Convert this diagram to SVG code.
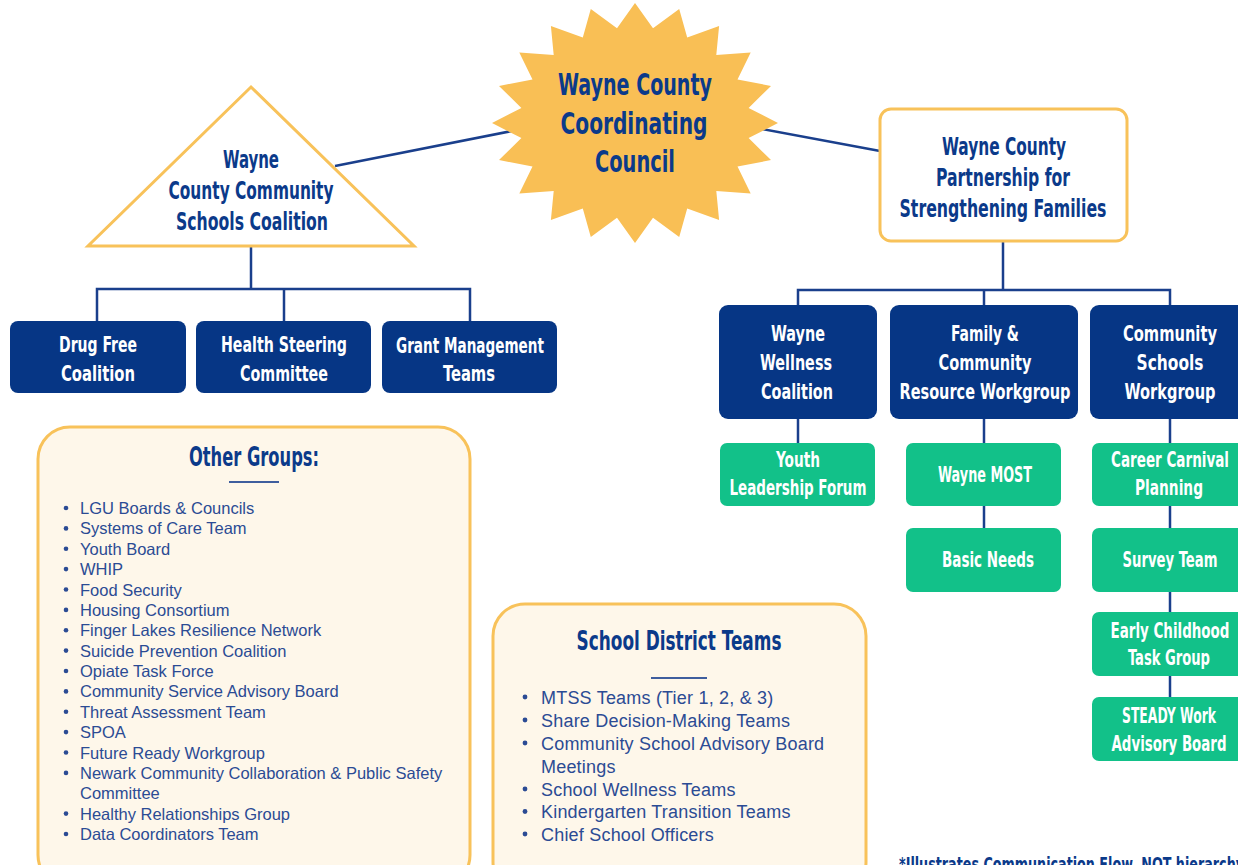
<svg xmlns="http://www.w3.org/2000/svg" width="1238" height="865" viewBox="0 0 1238 865">
<style>
.c{font-family:"DejaVu Sans Condensed","DejaVu Sans",sans-serif;font-stretch:condensed;font-weight:bold;text-anchor:middle}
.nv{fill:#0B3A8A}
.wt{fill:#FFFFFF}
.b1{font-size:30px}
.b2{font-size:25px}
.b3{font-size:22px}
.navy{fill:#063685}
.green{fill:#12C189}
.gold{fill:#FFFFFF;stroke:#F8C25A;stroke-width:3}
.cream{fill:#FEF7EA;stroke:#F8C25A;stroke-width:3}
.ln{stroke:#1A3F8C;stroke-width:2.5;fill:none}
.li{font-family:"Liberation Sans",Arial,sans-serif;font-size:16.5px;fill:#2B4B94}
.li2{font-family:"Liberation Sans",Arial,sans-serif;font-size:18px;letter-spacing:0.2px;fill:#2B4B94}
.dot{fill:#2B4B94}
</style>
<rect width="1238" height="865" fill="#FFFFFF"/>
<g id="connectors">
<line class="ln" x1="335" y1="166" x2="517" y2="130"/>
<line class="ln" x1="757" y1="128" x2="880" y2="151"/>
<polyline class="ln" points="251,246 251,289"/>
<polyline class="ln" points="97,322 97,289 470,289 470,322"/>
<line class="ln" x1="284" y1="289" x2="284" y2="322"/>
<line class="ln" x1="1003" y1="241" x2="1003" y2="290"/>
<polyline class="ln" points="798,306 798,290 1170,290 1170,306"/>
<line class="ln" x1="984" y1="290" x2="984" y2="306"/>
<line class="ln" x1="798" y1="419" x2="798" y2="443"/>
<line class="ln" x1="984" y1="419" x2="984" y2="443"/>
<line class="ln" x1="984" y1="506" x2="984" y2="528"/>
<line class="ln" x1="1170" y1="419" x2="1170" y2="443"/>
<line class="ln" x1="1170" y1="506" x2="1170" y2="528"/>
<line class="ln" x1="1170" y1="592" x2="1170" y2="612"/>
<line class="ln" x1="1170" y1="676" x2="1170" y2="697"/>
</g>
<g id="council">
<polygon fill="#F9BF55" points="635,3 653,28.2 679.2,8.9 687.2,37.5 719.1,25.9 716.3,55.1 750.7,52.5 737.5,79.4 771,85.9 748.6,108 778,123 748.6,138 771,160.1 737.5,166.6 750.7,193.5 716.3,190.9 719.1,220.1 687.2,208.5 679.2,237.1 653,217.8 635,243 617,217.8 590.8,237.1 582.8,208.5 550.9,220.1 553.7,190.9 519.3,193.5 532.5,166.6 499,160.1 521.4,138 492,123 521.4,108 499,85.9 532.5,79.4 519.3,52.5 553.7,55.1 550.9,25.9 582.8,37.5 590.8,8.9 617,28.2"/>
<text class="c nv b1" x="635" y="95" textLength="154" lengthAdjust="spacingAndGlyphs">Wayne County</text>
<text class="c nv b1" x="634" y="134" textLength="147" lengthAdjust="spacingAndGlyphs">Coordinating</text>
<text class="c nv b1" x="635" y="172" textLength="80" lengthAdjust="spacingAndGlyphs">Council</text>
</g>
<g id="coalition">
<polygon class="gold" points="251,87 414,246 88,246"/>
<text class="c nv b2" x="251" y="168" textLength="56" lengthAdjust="spacingAndGlyphs">Wayne</text>
<text class="c nv b2" x="251" y="199" textLength="165" lengthAdjust="spacingAndGlyphs">County Community</text>
<text class="c nv b2" x="252" y="230" textLength="152" lengthAdjust="spacingAndGlyphs">Schools Coalition</text>
</g>
<g id="partnership">
<rect class="gold" x="880" y="109" width="247" height="132" rx="11"/>
<text class="c nv b2" x="1004" y="155" textLength="124" lengthAdjust="spacingAndGlyphs">Wayne County</text>
<text class="c nv b2" x="1003" y="186" textLength="134" lengthAdjust="spacingAndGlyphs">Partnership for</text>
<text class="c nv b2" x="1003" y="217" textLength="207" lengthAdjust="spacingAndGlyphs">Strengthening Families</text>
</g>
<g id="drugfree">
<rect class="navy" x="10" y="321" width="176" height="72" rx="8"/>
<text class="c wt b3" x="98" y="352" textLength="78" lengthAdjust="spacingAndGlyphs">Drug Free</text>
<text class="c wt b3" x="98" y="381" textLength="74" lengthAdjust="spacingAndGlyphs">Coalition</text>
</g>
<g id="health">
<rect class="navy" x="196" y="321" width="175" height="72" rx="8"/>
<text class="c wt b3" x="284" y="352" textLength="126" lengthAdjust="spacingAndGlyphs">Health Steering</text>
<text class="c wt b3" x="284" y="381" textLength="88" lengthAdjust="spacingAndGlyphs">Committee</text>
</g>
<g id="grant">
<rect class="navy" x="382" y="321" width="175" height="72" rx="8"/>
<text class="c wt b3" x="470" y="353" textLength="148" lengthAdjust="spacingAndGlyphs">Grant Management</text>
<text class="c wt b3" x="469" y="381" textLength="52" lengthAdjust="spacingAndGlyphs">Teams</text>
</g>
<g id="wellness">
<rect class="navy" x="719" y="305" width="158" height="114" rx="9"/>
<text class="c wt b3" x="798" y="341" textLength="54" lengthAdjust="spacingAndGlyphs">Wayne</text>
<text class="c wt b3" x="796" y="370" textLength="72" lengthAdjust="spacingAndGlyphs">Wellness</text>
<text class="c wt b3" x="797" y="399" textLength="72" lengthAdjust="spacingAndGlyphs">Coalition</text>
</g>
<g id="family">
<rect class="navy" x="890" y="305" width="188" height="114" rx="9"/>
<text class="c wt b3" x="985" y="341" textLength="68" lengthAdjust="spacingAndGlyphs">Family &amp;</text>
<text class="c wt b3" x="985" y="370" textLength="93" lengthAdjust="spacingAndGlyphs">Community</text>
<text class="c wt b3" x="985" y="399" textLength="171" lengthAdjust="spacingAndGlyphs">Resource Workgroup</text>
</g>
<g id="csworkgroup">
<rect class="navy" x="1090" y="305" width="160" height="114" rx="9"/>
<text class="c wt b3" x="1170" y="341" textLength="94" lengthAdjust="spacingAndGlyphs">Community</text>
<text class="c wt b3" x="1170" y="370" textLength="67" lengthAdjust="spacingAndGlyphs">Schools</text>
<text class="c wt b3" x="1170" y="399" textLength="91" lengthAdjust="spacingAndGlyphs">Workgroup</text>
</g>
<g id="youth">
<rect class="green" x="720" y="443" width="155" height="63" rx="7"/>
<text class="c wt b3" x="798" y="467" textLength="44" lengthAdjust="spacingAndGlyphs">Youth</text>
<text class="c wt b3" x="798" y="495" textLength="137" lengthAdjust="spacingAndGlyphs">Leadership Forum</text>
</g>
<g id="most">
<rect class="green" x="906" y="443" width="155" height="63" rx="7"/>
<text class="c wt b3" x="985" y="482" textLength="94" lengthAdjust="spacingAndGlyphs">Wayne MOST</text>
</g>
<g id="career">
<rect class="green" x="1092" y="443" width="155" height="63" rx="7"/>
<text class="c wt b3" x="1170" y="467" textLength="118" lengthAdjust="spacingAndGlyphs">Career Carnival</text>
<text class="c wt b3" x="1169" y="495" textLength="68" lengthAdjust="spacingAndGlyphs">Planning</text>
</g>
<g id="basic">
<rect class="green" x="906" y="528" width="155" height="64" rx="7"/>
<text class="c wt b3" x="988" y="567" textLength="92" lengthAdjust="spacingAndGlyphs">Basic Needs</text>
</g>
<g id="survey">
<rect class="green" x="1092" y="528" width="155" height="64" rx="7"/>
<text class="c wt b3" x="1170" y="567" textLength="95" lengthAdjust="spacingAndGlyphs">Survey Team</text>
</g>
<g id="early">
<rect class="green" x="1092" y="612" width="155" height="64" rx="7"/>
<text class="c wt b3" x="1170" y="638" textLength="119" lengthAdjust="spacingAndGlyphs">Early Childhood</text>
<text class="c wt b3" x="1169" y="665" textLength="82" lengthAdjust="spacingAndGlyphs">Task Group</text>
</g>
<g id="steady">
<rect class="green" x="1092" y="697" width="155" height="64" rx="7"/>
<text class="c wt b3" x="1169" y="723" textLength="94" lengthAdjust="spacingAndGlyphs">STEADY Work</text>
<text class="c wt b3" x="1169" y="751" textLength="115" lengthAdjust="spacingAndGlyphs">Advisory Board</text>
</g>
<g id="othergroups">
<rect class="cream" x="38" y="427" width="432" height="460" rx="32"/>
<text class="c nv" x="254" y="466" font-size="27" textLength="130" lengthAdjust="spacingAndGlyphs">Other Groups:</text>
<line x1="229" y1="482" x2="279" y2="482" stroke="#3F5E9E" stroke-width="2"/>
<g class="dot">
<circle cx="66" cy="508" r="2.3"/><circle cx="66" cy="528.4" r="2.3"/><circle cx="66" cy="548.8" r="2.3"/><circle cx="66" cy="569.1" r="2.3"/><circle cx="66" cy="589.5" r="2.3"/><circle cx="66" cy="609.9" r="2.3"/><circle cx="66" cy="630.3" r="2.3"/><circle cx="66" cy="650.6" r="2.3"/><circle cx="66" cy="671" r="2.3"/><circle cx="66" cy="691.4" r="2.3"/><circle cx="66" cy="711.8" r="2.3"/><circle cx="66" cy="732.1" r="2.3"/><circle cx="66" cy="752.5" r="2.3"/><circle cx="66" cy="772.9" r="2.3"/><circle cx="66" cy="813.6" r="2.3"/><circle cx="66" cy="834" r="2.3"/>
</g>
<text class="li" x="80" y="514">LGU Boards &amp; Councils</text>
<text class="li" x="80" y="534.4">Systems of Care Team</text>
<text class="li" x="80" y="554.8">Youth Board</text>
<text class="li" x="80" y="575.1">WHIP</text>
<text class="li" x="80" y="595.5">Food Security</text>
<text class="li" x="80" y="615.9">Housing Consortium</text>
<text class="li" x="80" y="636.3">Finger Lakes Resilience Network</text>
<text class="li" x="80" y="656.6">Suicide Prevention Coalition</text>
<text class="li" x="80" y="677">Opiate Task Force</text>
<text class="li" x="80" y="697.4">Community Service Advisory Board</text>
<text class="li" x="80" y="717.8">Threat Assessment Team</text>
<text class="li" x="80" y="738.1">SPOA</text>
<text class="li" x="80" y="758.5">Future Ready Workgroup</text>
<text class="li" x="80" y="778.9">Newark Community Collaboration &amp; Public Safety</text>
<text class="li" x="80" y="799.3">Committee</text>
<text class="li" x="80" y="819.6">Healthy Relationships Group</text>
<text class="li" x="80" y="840">Data Coordinators Team</text>
</g>
<g id="schoolteams">
<rect class="cream" x="493" y="604" width="373" height="290" rx="32"/>
<text class="c nv" x="679" y="650" font-size="27" textLength="205" lengthAdjust="spacingAndGlyphs">School District Teams</text>
<line x1="651" y1="678" x2="707" y2="678" stroke="#3F5E9E" stroke-width="2"/>
<g class="dot">
<circle cx="525" cy="697" r="2.4"/><circle cx="525" cy="720" r="2.4"/><circle cx="525" cy="743" r="2.4"/><circle cx="525" cy="789" r="2.4"/><circle cx="525" cy="811.5" r="2.4"/><circle cx="525" cy="834" r="2.4"/>
</g>
<text class="li2" x="541" y="703.5">MTSS Teams (Tier 1, 2, &amp; 3)</text>
<text class="li2" x="541" y="726.5">Share Decision-Making Teams</text>
<text class="li2" x="541" y="749.5">Community School Advisory Board</text>
<text class="li2" x="541" y="772.5">Meetings</text>
<text class="li2" x="541" y="795.5">School Wellness Teams</text>
<text class="li2" x="541" y="818">Kindergarten Transition Teams</text>
<text class="li2" x="541" y="840.5">Chief School Officers</text>
</g>
<text class="c nv" x="899" y="871" font-size="20" style="text-anchor:start" textLength="345" lengthAdjust="spacingAndGlyphs">*Illustrates Communication Flow, NOT hierarchy</text>
</svg>
